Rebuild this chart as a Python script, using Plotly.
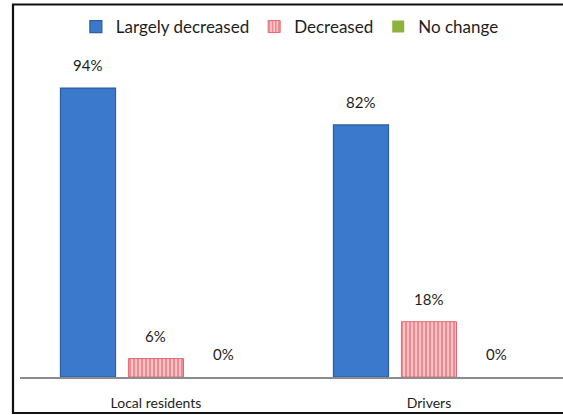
import plotly.graph_objects as go

# Survey groups and the share of answers in each category (%)
groups = ["Local residents", "Drivers"]
largely_decreased = [94, 82]
decreased = [6, 18]
no_change = [0, 0]

series = [
    ("Largely decreased", largely_decreased),
    ("Decreased", decreased),
    ("No change", no_change),
]

BARGAP = 0.253
GROUPGAP = 0.19
slot = (1 - BARGAP) / len(series)
xpos = list(range(len(groups)))

FONT = "Lato, Calibri, 'Open Sans', sans-serif"
TEXT = "#1e1e1e"

fig = go.Figure()

fig.add_trace(go.Bar(
    name="Largely decreased", x=xpos, y=largely_decreased,
    marker=dict(color="#3b79cc", line=dict(color="#2b5d9f", width=1.2)),
))
fig.add_trace(go.Bar(
    name="Decreased", x=xpos, y=decreased,
    marker=dict(
        color="#f4b3b8",
        line=dict(color="#e06a72", width=1),
        pattern=dict(shape="|", fgcolor="#e2424c", bgcolor="#f7c4c8",
                     size=4, solidity=0.45),
    ),
))
fig.add_trace(go.Bar(
    name="No change", x=xpos, y=no_change,
    marker=dict(color="#8db33c", line=dict(width=0)),
))

# value labels above each bar
annotations = []
for k, (_, vals) in enumerate(series):
    offset = (k - (len(series) - 1) / 2) * slot
    for i, v in enumerate(vals):
        annotations.append(dict(
            x=xpos[i] + offset, y=v, xref="x", yref="y",
            text=f"{v}%", showarrow=False, yanchor="bottom",
            yshift=12, font=dict(family=FONT, size=15, color=TEXT),
        ))

fig.update_layout(
    width=563, height=415,
    margin=dict(l=20, r=0, t=30, b=38, autoexpand=False),
    paper_bgcolor="white", plot_bgcolor="white",
    barmode="group", bargap=BARGAP, bargroupgap=GROUPGAP,
    font=dict(family=FONT, size=14, color=TEXT),
    showlegend=True,
    legend=dict(
        orientation="h", x=0.497, xanchor="center", y=1.0086, yanchor="middle",
        font=dict(family=FONT, size=17, color=TEXT),
        itemwidth=30, tracegroupgap=0,
        bgcolor="rgba(0,0,0,0)",
    ),
    xaxis=dict(
        tickmode="array", tickvals=xpos, ticktext=groups,
        range=[-0.498, 1.491], showline=True, linecolor="#8c8c8c",
        linewidth=1.5, showgrid=False, zeroline=False,
        ticks="outside", ticklen=12, tickcolor="rgba(0,0,0,0)",
        tickfont=dict(family=FONT, size=14, color=TEXT),
        fixedrange=True,
    ),
    yaxis=dict(
        range=[0, 112.9], visible=False, showgrid=False, zeroline=False,
        fixedrange=True,
    ),
    annotations=annotations,
    shapes=[dict(
        type="rect", xref="paper", yref="paper",
        x0=-0.0129, x1=1.02, y0=-0.1037, y1=1.0735,
        line=dict(color="#111111", width=2.2), fillcolor="rgba(0,0,0,0)",
        layer="above",
    )],
)

fig.write_html("out.html")
